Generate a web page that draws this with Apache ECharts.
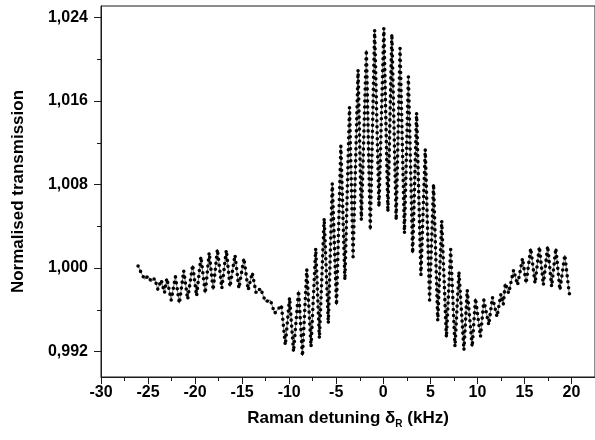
<!DOCTYPE html>
<html><head><meta charset="utf-8">
<script src="https://cdn.jsdelivr.net/npm/echarts@6/dist/echarts.min.js"></script>
<style>html,body{margin:0;padding:0;background:#fff}#c{width:595px;height:440px}</style>
</head><body><div id="c"></div><script>
// Raman detuning (kHz) (alternating maxima/minima of the fast oscillation)
const detuning = [
 -26.06,-25.71,-25.36,-25.00,-24.65,-24.30,-23.96,-23.60,-23.25,-23.00,
 -22.54,-22.09,-21.67,-21.21,-20.79,-20.26,-19.84,-19.38,-18.92,-18.50,
 -18.08,-17.63,-17.16,-16.68,-16.29,-15.76,-15.34,-14.81,-14.36,-13.93,
 -13.51,-13.05,-12.52,-12.00,-11.54,-10.83,-10.41,-9.96,-9.54,-9.00,
 -8.59,-8.13,-7.68,-7.18,-6.79,-6.28,-5.84,-5.42,-4.97,-4.51,
 -4.08,-3.59,-3.21,-2.68,-2.33,-1.80,-1.38,-0.92,-0.46,0.06,
 0.49,0.91,1.37,1.78,2.25,2.67,3.12,3.54,4.00,4.46,
 4.92,5.34,5.79,6.21,6.71,7.16,7.62,8.04,8.57,8.92,
 9.45,9.80,10.33,10.69,11.21,11.60,12.09,12.50,12.75,12.97,
 13.32,13.85,14.27,14.80,15.18,15.67,16.13,16.59,17.01,17.47,
 17.89,18.34,18.77,19.29,19.76,19.83
];
// Normalised transmission at those detunings
const transmission = [
 1.0002,0.9995,0.99892,0.99923,0.99869,0.99901,0.99796,0.99885,0.99763,0.99901,
 0.99693,0.99917,0.99662,0.99974,0.99700,1.00029,0.99732,1.00108,0.99758,1.00147,
 0.99789,1.00179,0.99806,1.00172,0.99821,1.00124,0.99806,1.00093,0.99789,0.99955,
 0.99758,0.99806,0.99677,0.99693,0.99566,0.99645,0.99262,0.99716,0.99198,0.99783,
 0.99157,0.99987,0.99246,1.00189,0.99326,1.00476,0.99470,1.00811,0.99645,1.01169,
 0.99885,1.01540,1.00108,1.01897,1.00460,1.02089,1.00364,1.02280,1.00587,1.02297,
 1.00539,1.02242,1.00460,1.02105,1.00332,1.01833,1.00141,1.01488,0.99933,1.01137,
 0.99693,1.00805,0.99495,1.00453,0.99336,1.00179,0.99246,0.99965,0.99214,0.99789,
 0.99246,0.99710,0.99342,0.99693,0.99454,0.99720,0.99533,0.99750,0.99650,0.99853,
 0.99758,0.99981,0.99837,1.00093,0.99853,1.00189,0.99853,1.00204,0.99837,1.00211,
 0.99821,1.00189,0.99789,1.00124,0.99758,0.99745
];
const xTickLabels = [-30,-25,-20,-15,-10,-5,0,5,10,15,20];
const xMinorTicks = [-27.5,-22.5,-17.5,-12.5,-7.5,-2.5,2.5,7.5,12.5,17.5];
const yTickLabels = [0.992,1.000,1.008,1.016,1.024];
const yMinorTicks = [0.996,1.004,1.012,1.020];

const X_MIN = -30, X_MAX = 22.5, Y_MIN = 0.98956, Y_MAX = 1.0251;
const points = detuning.map((x, i) => [x, transmission[i]]);
const font = 'Liberation Sans, Arial, sans-serif';
const axisColor = '#1a1a1a';

const chart = echarts.init(document.getElementById('c'), null, {renderer: 'canvas'});
chart.setOption({
  animation: false,
  backgroundColor: '#fff',
  grid: {left: 101, top: 6, width: 497.7, height: 371, show: true, borderColor: axisColor, borderWidth: 1, containLabel: false},
  xAxis: [{
    type: 'value', min: X_MIN, max: X_MAX,
    axisLine: {show: true, onZero: false, lineStyle: {color: axisColor, width: 1}},
    axisTick: {show: true, inside: false, length: 7, customValues: xTickLabels, lineStyle: {color: axisColor}},
    axisLabel: {customValues: xTickLabels, margin: 8, color: '#000', fontFamily: font, fontWeight: 'bold', fontSize: 16,
      formatter: v => String(v)},
    splitLine: {show: false},
    name: 'Raman detuning {d|δ}{s|R} (kHz)', nameLocation: 'middle', nameGap: 31,
    nameTextStyle: {color: '#000', fontFamily: font, fontWeight: 'bold', fontSize: 17,
      rich: {d: {fontFamily: font, fontWeight: 'bold', fontSize: 17, color: '#000'},
             s: {fontFamily: font, fontWeight: 'bold', fontSize: 10, color: '#000', padding: [11, 0, 0, 0]}}}
  }, {
    type: 'value', min: X_MIN, max: X_MAX, position: 'bottom',
    axisLine: {show: false, onZero: false},
    axisTick: {show: true, inside: false, length: 4, customValues: xMinorTicks, lineStyle: {color: axisColor}},
    axisLabel: {show: false}, splitLine: {show: false}
  }],
  yAxis: [{
    type: 'value', min: Y_MIN, max: Y_MAX,
    axisLine: {show: true, onZero: false, lineStyle: {color: axisColor, width: 1}},
    axisTick: {show: true, inside: false, length: 7, customValues: yTickLabels, lineStyle: {color: axisColor}},
    axisLabel: {customValues: yTickLabels, margin: 13, color: '#000', fontFamily: font, fontWeight: 'bold', fontSize: 16,
      formatter: v => v.toFixed(3).replace('.', ',')},
    splitLine: {show: false},
    name: 'Normalised transmission', nameLocation: 'middle', nameGap: 74,
    nameTextStyle: {color: '#000', fontFamily: font, fontWeight: 'bold', fontSize: 17}
  }, {
    type: 'value', min: Y_MIN, max: Y_MAX, position: 'left',
    axisLine: {show: false, onZero: false},
    axisTick: {show: true, inside: false, length: 4, customValues: yMinorTicks, lineStyle: {color: axisColor}},
    axisLabel: {show: false}, splitLine: {show: false}
  }],
  series: [{
    type: 'line', xAxisIndex: 0, yAxisIndex: 0, data: points,
    showSymbol: false, symbol: 'none', silent: true,
    lineStyle: {color: '#555', width: 0.8}
  }, {
    type: 'line', xAxisIndex: 0, yAxisIndex: 0, data: points,
    showSymbol: false, symbol: 'none', silent: true,
    lineStyle: {color: '#000', width: 3.6, type: [0, 6], cap: 'round'}
  }]
});
</script></body></html>
